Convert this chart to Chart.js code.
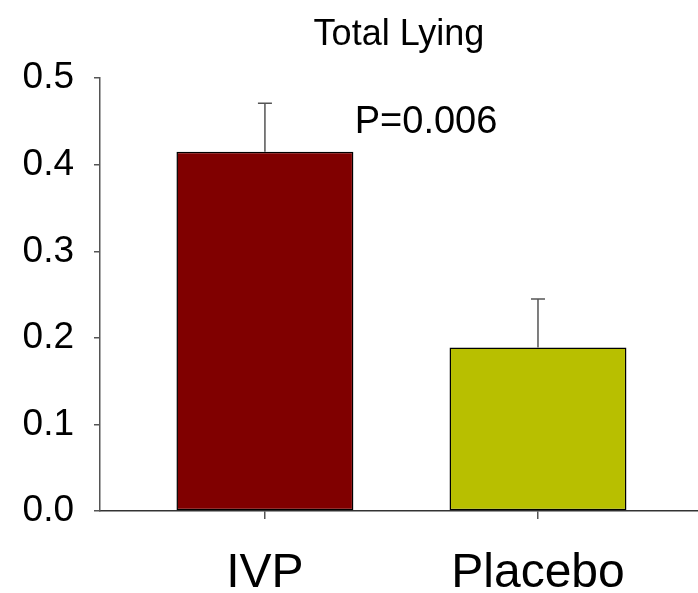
<!DOCTYPE html>
<html>
<head>
<meta charset="utf-8">
<script src="https://cdn.jsdelivr.net/npm/chart.js@4.4.0/dist/chart.umd.min.js"></script>
<style>
  html, body { margin: 0; padding: 0; background: #fff; }
  #wrap { width: 698px; height: 593px; }
</style>
</head>
<body>
<div id="wrap"><canvas id="lying-chart"></canvas></div>
<script>
// Total Lying - IVP vs Placebo
const categories = ["IVP", "Placebo"];
const positions = [1, 2];
const means = [0.415, 0.189];
const errors = [0.056, 0.056];
const barColors = ["#800000", "#b8bf00"];
const yTicks = [0.0, 0.1, 0.2, 0.3, 0.4, 0.5];
const pLabel = "P=0.006";

const FONT = "'Liberation Sans', Arial, sans-serif";

// error bars + p value text
const errorBarPlugin = {
  id: "errorBars",
  afterDatasetsDraw(chart) {
    const ctx = chart.ctx;
    const meta = chart.getDatasetMeta(0);
    const yScale = chart.scales.y;
    const xScale = chart.scales.x;
    ctx.save();
    ctx.strokeStyle = "#555";
    ctx.lineWidth = 1.5;
    meta.data.forEach((bar, i) => {
      const top = yScale.getPixelForValue(means[i] + errors[i]);
      ctx.beginPath();
      ctx.moveTo(bar.x, bar.y);
      ctx.lineTo(bar.x, top);
      ctx.moveTo(bar.x - 7, top);
      ctx.lineTo(bar.x + 7, top);
      ctx.stroke();
    });
    ctx.fillStyle = "#000";
    ctx.font = "38px " + FONT;
    ctx.textAlign = "center";
    ctx.textBaseline = "middle";
    ctx.fillText(pLabel, xScale.getPixelForValue(1.59), yScale.getPixelForValue(0.449));
    ctx.restore();
  }
};

const ctx = document.getElementById("lying-chart").getContext("2d");
new Chart(ctx, {
  type: "bar",
  data: {
    datasets: [{
      data: positions.map((x, i) => ({ x: x, y: means[i] })),
      backgroundColor: barColors,
      borderColor: "#000",
      borderWidth: 1.5,
      borderSkipped: false,
      categoryPercentage: 1,
      barPercentage: 0.648
    }]
  },
  options: {
    responsive: true,
    maintainAspectRatio: false,
    animation: false,
    layout: { padding: 0 },
    plugins: {
      legend: { display: false },
      tooltip: { enabled: false },
      title: {
        display: true,
        text: "Total Lying",
        fullSize: false,
        color: "#000",
        font: { family: FONT, size: 36, weight: "normal" },
        padding: { top: 13, bottom: 22 }
      }
    },
    scales: {
      x: {
        type: "linear",
        min: 0.396,
        max: 2.586,
        offset: false,
        afterBuildTicks: axis => { axis.ticks = positions.map(v => ({ value: v })); },
        afterFit: axis => { axis.height = 82; },
        ticks: {
          callback: (v) => categories[positions.indexOf(v)] || "",
          color: "#000",
          font: { family: FONT, size: 48 },
          padding: 26,
          maxRotation: 0
        },
        grid: { offset: false, drawOnChartArea: false, drawTicks: true, tickLength: 8, color: "#555", lineWidth: 1.5 },
        border: { display: true, color: "#333", width: 1.5 }
      },
      y: {
        min: 0,
        max: 0.5,
        afterBuildTicks: axis => { axis.ticks = yTicks.map(v => ({ value: v })); },
        afterFit: axis => { axis.width = 100; },
        ticks: {
          callback: v => v.toFixed(1),
          color: "#000",
          font: { family: FONT, size: 37 },
          padding: 20
        },
        grid: { drawOnChartArea: false, drawTicks: true, tickLength: 6, color: "#555", lineWidth: 1.5 },
        border: { display: true, color: "#555", width: 1.5 }
      }
    }
  },
  plugins: [errorBarPlugin]
});
</script>
</body>
</html>
